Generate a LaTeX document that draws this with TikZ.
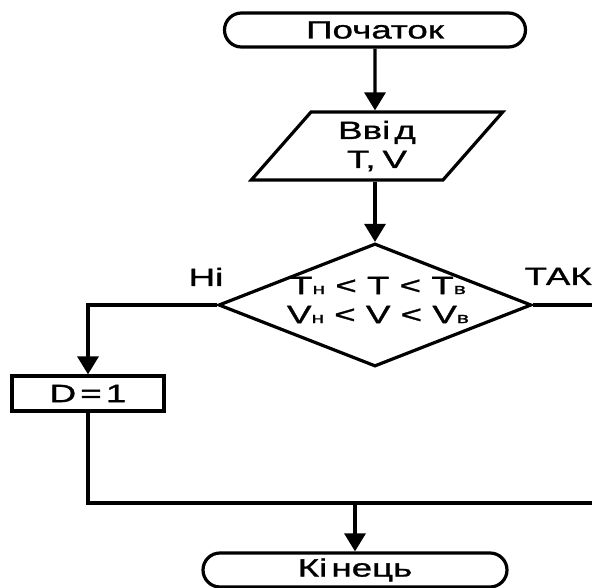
\documentclass[tikz,border=0pt]{standalone}
\usepackage{fontspec}
\setmainfont{Liberation Sans}[FakeStretch=1.47,FakeBold=1.2]
\usetikzlibrary{arrows.meta,shapes.geometric,shapes.misc}

% small lowercase index letters set on the baseline
\newcommand\lowidx[1]{{\fontsize{15.5}{15.5}\selectfont #1}}

\begin{document}
\begin{tikzpicture}[x=1pt,y=-1pt,
  line width=3.2pt,
  font=\fontsize{25}{29}\selectfont,
  flow/.style={-{Triangle[length=18pt,width=21pt]}},
  term/.style={draw, rounded rectangle, minimum width=301pt, minimum height=34pt, inner sep=0pt},
  iobox/.style={draw, trapezium, trapezium left angle=55, trapezium right angle=125,
    trapezium stretches=true, minimum width=252pt, minimum height=68pt, inner sep=0pt, align=center},
  cond/.style={draw, diamond, aspect=2.54, minimum width=313pt, minimum height=123pt, inner sep=0pt},
  proc/.style={draw, rectangle, minimum width=152pt, minimum height=35pt, inner sep=0pt},
  lbl/.style={inner sep=0pt, align=center}
]
\useasboundingbox (0,0) rectangle (592,588);
\clip (0,0) rectangle (592,588);

% blocks
\node[term] (start) at (375,30) {Початок};
\node[iobox] (input) at (377,146) {Вві\,д\\T,\;V};
\node[cond] (check) at (375,305) {};
\node[lbl] (checkText) at (378,300) {T\lowidx{н} < T < T\lowidx{в}\\V\lowidx{н} < V < V\lowidx{в}};
\node[proc] (set) at (88,393.5) {D\,=\,1};
\node[term, minimum width=304pt] (finish) at (355,570) {Кі\,нець};

% branch labels
\node[lbl, anchor=base] (no) at (206,286) {Ні};
\node[lbl, anchor=base west] (yes) at (523,285) {ТАК};

% turning points of the connectors
\coordinate (noTurn) at (88,305);
\coordinate (yesOut) at (600,305);
\coordinate (merge) at (88,503);
\coordinate (mergeEnd) at (600,503);
\coordinate (joinPt) at (355,503);

% connectors
\draw[flow] (start) -- (start |- input.north);
\draw[flow] (input.south -| check.north) -- (check.north);
\draw[flow] (check.west) -- (noTurn) -- (set.north);
\draw (check.east) -- (yesOut);
\draw (set.south) -- (merge) -- (mergeEnd);
\draw[flow] (joinPt) -- (finish);
\end{tikzpicture}
\end{document}
